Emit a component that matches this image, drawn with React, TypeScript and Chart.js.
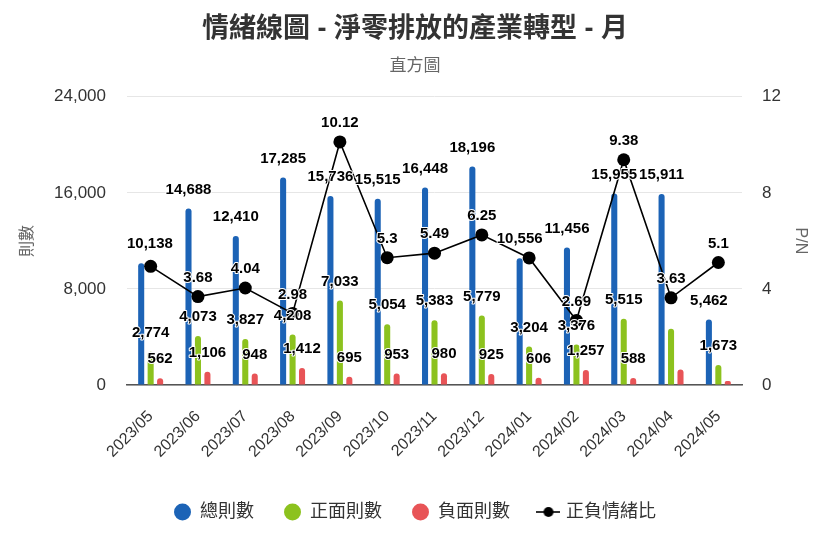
import React, { useEffect, useRef } from 'react';
import { Chart, registerables } from 'chart.js';

Chart.register(...registerables);

const categories = ['2023/05', '2023/06', '2023/07', '2023/08', '2023/09', '2023/10', '2023/11', '2023/12', '2024/01', '2024/02', '2024/03', '2024/04', '2024/05'];
const totalCounts = [10138, 14688, 12410, 17285, 15736, 15515, 16448, 18196, 10556, 11456, 15955, 15911, 5462];
const positiveCounts = [2774, 4073, 3827, 4208, 7033, 5054, 5383, 5779, 3204, 3376, 5515, 4680, 1673];
const negativeCounts = [562, 1106, 948, 1412, 695, 953, 980, 925, 606, 1257, 588, 1289, 328];
const pnRatio = [4.94, 3.68, 4.04, 2.98, 10.12, 5.3, 5.49, 6.25, 5.29, 2.69, 9.38, 3.63, 5.1];
const seriesNames = ['總則數', '正面則數', '負面則數', '正負情緒比'];
const leftAxisMax = 24000;
const leftAxisStep = 8000;
const rightAxisMax = 12;
const rightAxisStep = 4;

const FONT = "'Liberation Sans', 'Noto Sans CJK TC', sans-serif";
const BLUE = '#1c63b6';
const GREEN = '#8cc21e';
const RED = '#e85457';

function lineLegendIcon(): HTMLCanvasElement {
  const c = document.createElement('canvas');
  c.width = 24;
  c.height = 14;
  const g = c.getContext('2d')!;
  g.strokeStyle = '#000';
  g.lineWidth = 1.6;
  g.beginPath();
  g.moveTo(0, 7);
  g.lineTo(24, 7);
  g.stroke();
  g.fillStyle = '#000';
  g.beginPath();
  g.arc(12, 7, 5, 0, Math.PI * 2);
  g.fill();
  return c;
}

const dataLabelPlugin = {
  id: 'dataLabelPlugin',
  afterDatasetsDraw(chart: any) {
    const ctx = chart.ctx;
    const area = chart.chartArea;
    const placed: { l: number; r: number; t: number; b: number }[] = [];
    ctx.save();
    ctx.font = 'bold 15px ' + FONT;
    ctx.textAlign = 'center';
    ctx.textBaseline = 'middle';
    ctx.lineJoin = 'round';
    [0, 1, 2, 3].forEach((di) => {
      const meta = chart.getDatasetMeta(di);
      const ds = chart.data.datasets[di];
      meta.data.forEach((el: any, i: number) => {
        const v = ds.data[i] as number;
        const text = di === 3 ? String(v) : v.toLocaleString('en-US');
        const w = ctx.measureText(text).width;
        let x = el.x;
        const y = el.y - 19;
        x = Math.min(Math.max(x, area.left + w / 2), area.right - w / 2);
        const box = { l: x - w / 2 - 0.5, r: x + w / 2 + 0.5, t: y - 9, b: y + 9 };
        if (placed.some((p) => box.l < p.r && box.r > p.l && box.t < p.b && box.b > p.t)) return;
        placed.push(box);
        ctx.strokeStyle = '#ffffff';
        ctx.lineWidth = 2;
        ctx.strokeText(text, x, y);
        ctx.fillStyle = '#000000';
        ctx.fillText(text, x, y);
      });
    });
    ctx.restore();
  },
};

export default function App() {
  const ref = useRef<HTMLCanvasElement | null>(null);

  useEffect(() => {
    document.body.style.margin = '0';
    const canvas = ref.current!;
    const barCommon = {
      type: 'bar' as const,
      yAxisID: 'y',
      categoryPercentage: 0.6,
      barPercentage: 0.64,
      borderRadius: 3,
      borderWidth: 0,
      pointStyle: 'circle',
    };
    const chart = new Chart(canvas, {
      type: 'bar',
      data: {
        labels: categories,
        datasets: [
          { ...barCommon, label: seriesNames[0], data: totalCounts, backgroundColor: BLUE, order: 1 },
          { ...barCommon, label: seriesNames[1], data: positiveCounts, backgroundColor: GREEN, order: 2 },
          { ...barCommon, label: seriesNames[2], data: negativeCounts, backgroundColor: RED, order: 3 },
          {
            type: 'line',
            label: seriesNames[3],
            data: pnRatio,
            yAxisID: 'y1',
            borderColor: '#000',
            backgroundColor: '#000',
            borderWidth: 1.6,
            pointRadius: 6.5,
            pointBackgroundColor: '#000',
            pointBorderWidth: 0,
            pointStyle: 'circle',
            order: 0,
          } as any,
        ],
      },
      options: {
        responsive: false,
        animation: false,
        devicePixelRatio: 1,
        layout: { padding: { top: 0, left: 0, right: 0, bottom: 22 } },
        plugins: {
          tooltip: { enabled: false },
          title: {
            display: true,
            text: '情緒線圖 - 淨零排放的產業轉型 - 月',
            color: '#333333',
            font: { family: FONT, size: 27, weight: 'bold' },
            padding: { top: 13, bottom: 11 },
          },
          subtitle: {
            display: true,
            text: '直方圖',
            color: '#666666',
            font: { family: FONT, size: 17, weight: 'normal' },
            padding: { top: 0, bottom: 20 },
          },
          legend: {
            display: true,
            position: 'bottom',
            labels: {
              usePointStyle: true,
              boxWidth: 17,
              boxHeight: 12,
              padding: 30,
              color: '#333333',
              font: { family: FONT, size: 18 },
              sort: (a: any, b: any) => a.datasetIndex - b.datasetIndex,
              generateLabels: (ch: any) => {
                const items = (Chart.defaults.plugins.legend.labels as any).generateLabels(ch);
                items.forEach((it: any) => {
                  if (it.datasetIndex === 3) {
                    it.pointStyle = lineLegendIcon();
                  } else {
                    it.lineWidth = 0;
                    it.strokeStyle = 'rgba(0,0,0,0)';
                  }
                });
                return items;
              },
            },
          },
        },
        scales: {
          x: {
            grid: { display: false },
            border: { display: true, color: '#555555', width: 1.5 },
            ticks: {
              autoSkip: false,
              maxRotation: 45,
              minRotation: 45,
              color: '#333333',
              font: { family: FONT, size: 16 },
              padding: 14,
            },
            afterFit: (scale: any) => {
              scale.height = 88;
            },
          },
          y: {
            position: 'left',
            min: 0,
            max: leftAxisMax,
            ticks: {
              stepSize: leftAxisStep,
              color: '#333333',
              font: { family: FONT, size: 17 },
              padding: 21,
              callback: (v: any) => Number(v).toLocaleString('en-US'),
            },
            grid: { color: '#e6e6e6', drawTicks: false, lineWidth: 1 },
            border: { display: false },
            title: {
              display: true,
              text: '則數',
              color: '#666666',
              font: { family: FONT, size: 16 },
              padding: { top: 18, bottom: 0 },
            },
            afterFit: (scale: any) => {
              scale.width = 127;
            },
          },
          y1: {
            position: 'right',
            min: 0,
            max: rightAxisMax,
            ticks: {
              stepSize: rightAxisStep,
              color: '#333333',
              font: { family: FONT, size: 17 },
              padding: 20,
            },
            grid: { display: false, drawTicks: false },
            border: { display: false },
            title: {
              display: true,
              text: 'P/N',
              color: '#666666',
              font: { family: FONT, size: 16 },
              padding: { top: 20, bottom: 0 },
            },
            afterFit: (scale: any) => {
              scale.width = 88;
            },
          },
        },
      } as any,
      plugins: [dataLabelPlugin],
    });
    return () => chart.destroy();
  }, []);

  return (
    <div style={{ position: 'absolute', left: 0, top: 0, width: 830, height: 553, background: '#fff' }}>
      <canvas ref={ref} width={830} height={553} />
    </div>
  );
}
